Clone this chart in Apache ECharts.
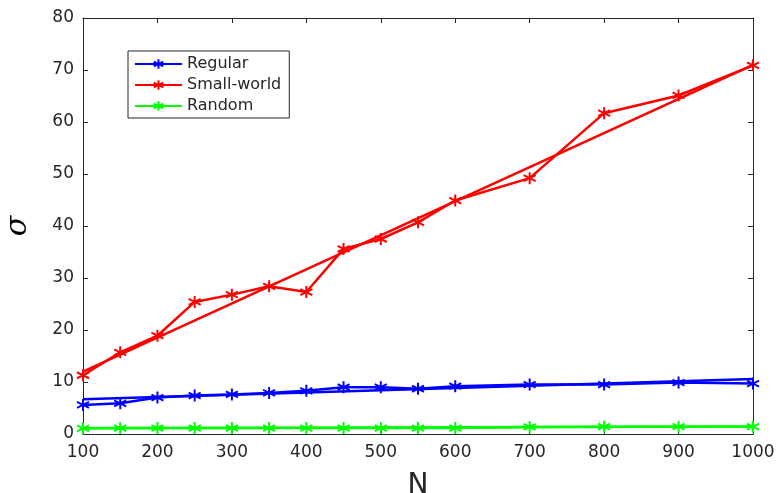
<!DOCTYPE html>
<html><head><meta charset="utf-8">
<script src="https://cdn.jsdelivr.net/npm/echarts@6/dist/echarts.min.js"></script>
<style>html,body{margin:0;padding:0;background:#fff}#c{width:776px;height:493px}</style>
</head><body><div id="c"></div>
<script>
const N = [100,150,200,250,300,350,400,450,500,550,600,700,800,900,1000];
const regular = [5.6,5.9,7.0,7.4,7.6,7.9,8.3,9.0,9.0,8.7,9.2,9.5,9.5,9.9,9.7];
const smallWorld = [11.3,15.7,18.9,25.4,26.8,28.4,27.3,35.6,37.5,40.7,44.9,49.2,61.7,65.1,70.9];
const random = [1.1,1.15,1.15,1.15,1.15,1.15,1.15,1.15,1.15,1.15,1.15,1.35,1.4,1.4,1.4];
const fitN = [100,1000];
const regularFit = [6.7,10.6];
const smallWorldFit = [12.0,71.0];
const randomFit = [1.1,1.45];

const star = 'path://M0,-10L0,10M-8.66,-5L8.66,5M-8.66,5L8.66,-5';
const pair = (xs, ys) => xs.map((x,i)=>[x,ys[i]]);
function dataSeries(name, color, vals){
  return {name, type:'line', data: pair(N, vals), symbol: star, symbolSize: 12,
    lineStyle:{color, width:2.5}, itemStyle:{color, borderColor:color, borderWidth:2},
    z: 3, animation:false};
}
function fitSeries(name, color, vals){
  return {name, type:'line', data: pair(fitN, vals), symbol:'none',
    lineStyle:{color, width:2.5}, z:2, animation:false};
}
const axisColor = '#262626';
const font = 'DejaVu Sans, sans-serif';
const chart = echarts.init(document.getElementById('c'));
chart.setOption({
  animation:false,
  grid:{left:83, right:23, top:18, bottom:59, show:false, containLabel:false, outerBoundsMode:'none'},
  legend:{
    data:['Regular','Small-world','Random'],
    orient:'vertical', left:128, top:51,
    backgroundColor:'#fff', borderColor:'#262626', borderWidth:1,
    padding:[5,8,4,6], itemWidth:47, itemHeight:12, itemGap:5,
    textStyle:{fontFamily:font, fontSize:16, color:'#262626'}
  },
  xAxis:[{
    type:'value', min:100, max:1000, interval:100,
    name:'N', nameLocation:'middle', nameGap:38,
    nameTextStyle:{fontFamily:font, fontSize:28, color:axisColor},
    axisLine:{show:true, lineStyle:{color:axisColor, width:1}},
    axisTick:{show:true, inside:true, length:5, lineStyle:{color:axisColor}},
    axisLabel:{fontFamily:font, fontSize:17, color:axisColor, margin:10,
      formatter: v => String(v)},
    splitLine:{show:false}
  },{
    type:'value', position:'top', min:100, max:1000, interval:100,
    axisLine:{show:true, onZero:false, lineStyle:{color:axisColor, width:1}},
    axisTick:{show:true, inside:true, length:5, lineStyle:{color:axisColor}},
    axisLabel:{show:false}, splitLine:{show:false}
  }],
  yAxis:[{
    type:'value', min:0, max:80, interval:10,
    name:'σ', nameLocation:'middle', nameGap:50, nameRotate:90,
    nameTextStyle:{fontFamily:'DejaVu Serif, serif', fontStyle:'italic', fontSize:30, color:'#000'},
    axisLine:{show:true, lineStyle:{color:axisColor, width:1}},
    axisTick:{show:true, inside:true, length:5, lineStyle:{color:axisColor}},
    axisLabel:{fontFamily:font, fontSize:17, color:axisColor, margin:9,
      formatter: v => String(v)},
    splitLine:{show:false}
  },{
    type:'value', position:'right', min:0, max:80, interval:10,
    axisLine:{show:true, onZero:false, lineStyle:{color:axisColor, width:1}},
    axisTick:{show:true, inside:true, length:5, lineStyle:{color:axisColor}},
    axisLabel:{show:false}, splitLine:{show:false}
  }],
  series:[
    dataSeries('Regular','#0000ff', regular),
    dataSeries('Small-world','#ff0000', smallWorld),
    dataSeries('Random','#00ff00', random),
    fitSeries('Regular fit','#0000ff', regularFit),
    fitSeries('Small-world fit','#ff0000', smallWorldFit),
    fitSeries('Random fit','#00ff00', randomFit)
  ]
});
</script></body></html>
